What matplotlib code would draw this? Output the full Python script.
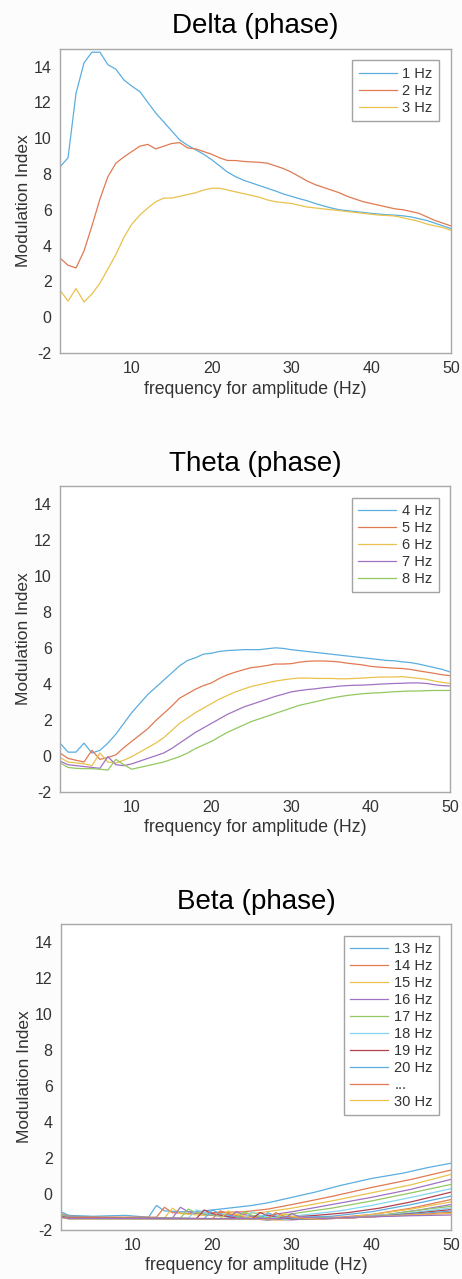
import numpy as np
import matplotlib.pyplot as plt

plt.rcParams['font.family'] = ['Liberation Sans', 'DejaVu Sans']
plt.rcParams['axes.unicode_minus'] = False

# MATLAB-like colour order (as it appears, slightly washed out)
colors = ['#5aaee0', '#e07a52', '#e9c24c', '#a172c2', '#92c862', '#84d6f0', '#b2404f']

freq = np.arange(1, 51)

# Delta (phase)
delta_labels = ['1 Hz', '2 Hz', '3 Hz']
delta_1 = [8.4, 8.9, 12.5, 14.2, 14.8, 14.8, 14.1, 13.85, 13.25, 12.9,
           12.6, 12.0, 11.4, 10.9, 10.4, 9.9, 9.6, 9.35, 9.1, 8.8,
           8.45, 8.1, 7.85, 7.65, 7.5, 7.35, 7.2, 7.05, 6.88, 6.75,
           6.62, 6.5, 6.35, 6.22, 6.1, 6.0, 5.95, 5.9, 5.85, 5.8,
           5.76, 5.72, 5.7, 5.66, 5.6, 5.5, 5.4, 5.25, 5.1, 4.95]
delta_2 = [3.3, 2.9, 2.75, 3.7, 5.1, 6.6, 7.85, 8.6, 8.95, 9.25,
           9.55, 9.65, 9.4, 9.55, 9.7, 9.75, 9.45, 9.4, 9.25, 9.1,
           8.9, 8.75, 8.75, 8.7, 8.67, 8.65, 8.6, 8.45, 8.3, 8.1,
           7.85, 7.6, 7.4, 7.25, 7.1, 6.95, 6.75, 6.6, 6.45, 6.35,
           6.25, 6.15, 6.05, 6.0, 5.9, 5.8, 5.6, 5.4, 5.25, 5.1]
delta_3 = [1.5, 0.9, 1.6, 0.85, 1.3, 1.9, 2.7, 3.5, 4.45, 5.2,
           5.7, 6.1, 6.45, 6.65, 6.65, 6.75, 6.85, 6.95, 7.1, 7.2,
           7.2, 7.1, 7.0, 6.9, 6.8, 6.7, 6.55, 6.45, 6.4, 6.35,
           6.25, 6.15, 6.1, 6.05, 6.0, 5.95, 5.9, 5.85, 5.8, 5.75,
           5.7, 5.68, 5.65, 5.55, 5.45, 5.35, 5.2, 5.1, 5.0, 4.85]

# Theta (phase)
theta_labels = ['4 Hz', '5 Hz', '6 Hz', '7 Hz', '8 Hz']
theta_4 = [0.7, 0.2, 0.2, 0.7, 0.15, 0.3, 0.7, 1.2, 1.8, 2.4,
           2.9, 3.4, 3.8, 4.2, 4.6, 5.0, 5.3, 5.45, 5.65, 5.7,
           5.8, 5.85, 5.87, 5.9, 5.9, 5.9, 5.95, 6.0, 5.97, 5.9,
           5.85, 5.8, 5.75, 5.7, 5.65, 5.6, 5.55, 5.5, 5.45, 5.4,
           5.35, 5.3, 5.28, 5.22, 5.18, 5.1, 5.0, 4.9, 4.8, 4.65]
theta_5 = [0.15, -0.15, -0.25, -0.35, 0.3, -0.2, -0.1, 0.05, 0.45, 0.8,
           1.15, 1.5, 1.95, 2.35, 2.75, 3.2, 3.45, 3.7, 3.9, 4.05,
           4.3, 4.5, 4.65, 4.78, 4.9, 4.95, 5.02, 5.1, 5.1, 5.12,
           5.2, 5.25, 5.27, 5.27, 5.25, 5.22, 5.15, 5.1, 5.05, 4.97,
           4.93, 4.9, 4.87, 4.85, 4.8, 4.72, 4.65, 4.58, 4.5, 4.45]
theta_6 = [-0.1, -0.35, -0.4, -0.45, -0.55, 0.15, -0.35, -0.4, -0.25, -0.05,
           0.2, 0.45, 0.7, 1.0, 1.4, 1.8, 2.1, 2.4, 2.65, 2.9,
           3.15, 3.35, 3.55, 3.7, 3.85, 3.95, 4.05, 4.15, 4.22, 4.28,
           4.32, 4.32, 4.3, 4.3, 4.3, 4.28, 4.28, 4.3, 4.32, 4.35,
           4.37, 4.38, 4.38, 4.4, 4.35, 4.3, 4.25, 4.15, 4.08, 4.02]
theta_7 = [-0.3, -0.5, -0.55, -0.6, -0.65, -0.7, -0.05, -0.5, -0.55, -0.45,
           -0.3, -0.15, 0.0, 0.15, 0.4, 0.7, 1.0, 1.3, 1.55, 1.8,
           2.05, 2.3, 2.5, 2.7, 2.85, 3.0, 3.15, 3.3, 3.42, 3.55,
           3.62, 3.68, 3.72, 3.78, 3.82, 3.87, 3.9, 3.92, 3.93, 3.95,
           3.98, 4.0, 4.02, 4.03, 4.05, 4.05, 4.02, 3.95, 3.9, 3.88]
theta_8 = [-0.4, -0.65, -0.7, -0.72, -0.72, -0.75, -0.8, -0.2, -0.5, -0.75,
           -0.65, -0.55, -0.45, -0.35, -0.2, -0.05, 0.15, 0.4, 0.6, 0.8,
           1.05, 1.3, 1.5, 1.7, 1.9, 2.05, 2.2, 2.35, 2.5, 2.65,
           2.8, 2.9, 3.0, 3.1, 3.2, 3.28, 3.35, 3.4, 3.45, 3.48,
           3.5, 3.53, 3.56, 3.58, 3.6, 3.6, 3.62, 3.63, 3.63, 3.63]

# Beta (phase): 13..30 Hz, read as breakpoints (x, MI)
beta_labels = ['13 Hz', '14 Hz', '15 Hz', '16 Hz', '17 Hz', '18 Hz',
               '19 Hz', '20 Hz', '...', '30 Hz']
beta_x = [
    [1, 2, 5, 9, 12, 13, 14, 16, 18, 20, 22, 25, 27, 30, 33, 36, 40, 44, 47, 50],
    [1, 2, 6, 13, 14, 15, 17, 20, 24, 27, 30, 35, 40, 45, 50],
    [1, 2, 14, 15, 16, 19, 22, 26, 30, 35, 40, 45, 50],
    [1, 2, 15, 16, 17, 20, 24, 27, 30, 35, 40, 45, 50],
    [1, 2, 16, 17, 18, 21, 25, 28, 31, 35, 40, 45, 50],
    [1, 2, 17, 18, 19, 22, 26, 29, 32, 36, 40, 45, 50],
    [1, 2, 18, 19, 20, 23, 27, 30, 33, 37, 41, 45, 50],
    [1, 2, 19, 20, 21, 24, 27, 31, 35, 40, 45, 50],
    [1, 2, 20, 21, 22, 25, 28, 32, 36, 40, 45, 50],
    [1, 2, 21, 22, 23, 26, 29, 33, 37, 41, 45, 50],
    [1, 2, 22, 23, 24, 27, 30, 34, 38, 42, 46, 50],
    [1, 2, 23, 24, 25, 28, 31, 35, 39, 43, 47, 50],
    [1, 2, 24, 25, 26, 29, 32, 36, 40, 44, 50],
    [1, 2, 25, 26, 27, 30, 33, 37, 41, 45, 50],
    [1, 2, 26, 27, 28, 31, 34, 38, 42, 46, 50],
    [1, 2, 27, 28, 29, 32, 35, 39, 43, 47, 50],
    [1, 2, 28, 29, 30, 33, 36, 40, 44, 50],
    [1, 2, 29, 30, 31, 34, 37, 41, 45, 50],
]
beta_y = [
    [-1.0, -1.2, -1.25, -1.2, -1.3, -0.65, -0.95, -1.0, -1.0, -0.9, -0.8, -0.65, -0.5, -0.2, 0.1, 0.45, 0.85, 1.15, 1.45, 1.7],
    [-1.1, -1.25, -1.3, -1.3, -0.75, -1.05, -1.1, -1.05, -1.0, -0.85, -0.6, -0.15, 0.35, 0.8, 1.32],
    [-1.15, -1.3, -1.35, -0.8, -1.1, -1.2, -1.15, -1.05, -0.8, -0.4, 0.05, 0.5, 1.08],
    [-1.2, -1.3, -1.35, -0.75, -1.0, -1.2, -1.3, -1.2, -1.0, -0.6, -0.2, 0.25, 0.8],
    [-1.2, -1.32, -1.35, -0.85, -1.05, -1.25, -1.35, -1.25, -1.05, -0.8, -0.4, 0.05, 0.52],
    [-1.25, -1.35, -1.35, -0.9, -1.05, -1.3, -1.4, -1.3, -1.15, -0.95, -0.65, -0.2, 0.28],
    [-1.2, -1.33, -1.38, -0.9, -1.1, -1.35, -1.45, -1.3, -1.2, -1.05, -0.8, -0.45, 0.09],
    [-1.15, -1.3, -1.38, -0.9, -1.1, -1.35, -1.45, -1.3, -1.25, -1.0, -0.6, -0.13],
    [-1.25, -1.35, -1.4, -0.95, -1.1, -1.4, -1.45, -1.35, -1.3, -1.15, -0.8, -0.32],
    [-1.2, -1.35, -1.4, -0.95, -1.15, -1.4, -1.45, -1.35, -1.3, -1.1, -0.85, -0.45],
    [-1.25, -1.35, -1.4, -1.0, -1.15, -1.4, -1.45, -1.35, -1.3, -1.15, -0.9, -0.6],
    [-1.2, -1.35, -1.4, -1.0, -1.2, -1.4, -1.4, -1.35, -1.3, -1.1, -0.85, -0.7],
    [-1.3, -1.38, -1.4, -1.0, -1.2, -1.4, -1.4, -1.35, -1.25, -1.1, -0.79],
    [-1.25, -1.35, -1.4, -1.05, -1.2, -1.4, -1.4, -1.35, -1.25, -1.1, -0.88],
    [-1.3, -1.38, -1.4, -1.05, -1.25, -1.4, -1.38, -1.32, -1.22, -1.1, -0.96],
    [-1.3, -1.35, -1.38, -1.05, -1.25, -1.4, -1.38, -1.3, -1.22, -1.12, -1.03],
    [-1.32, -1.4, -1.4, -1.08, -1.25, -1.4, -1.35, -1.28, -1.2, -1.1],
    [-1.3, -1.38, -1.38, -1.1, -1.28, -1.38, -1.32, -1.27, -1.22, -1.18],
]

fig = plt.figure(figsize=(4.62, 12.79), dpi=100, facecolor='#fcfcfc')

panels = [
    ('Delta (phase)', [0.130, 0.724, 0.846, 0.238]),
    ('Theta (phase)', [0.130, 0.381, 0.845, 0.239]),
    ('Beta (phase)', [0.132, 0.0385, 0.844, 0.239]),
]

axes = []
for title, rect in panels:
    ax = fig.add_axes(rect)
    ax.set_facecolor('white')
    ax.set_xlim(1, 50)
    ax.set_ylim(-2, 15)
    ax.set_xticks([10, 20, 30, 40, 50])
    ax.set_yticks(np.arange(-2, 15, 2))
    ax.tick_params(length=0, labelsize=11.5, labelcolor='#333333', pad=6)
    for s in ax.spines.values():
        s.set_color('#a8a8a8')
        s.set_linewidth(1.0)
    ax.set_title(title, fontsize=20, pad=11)
    ax.set_xlabel('frequency for amplitude (Hz)', fontsize=12.7, color='#333333', labelpad=3)
    ax.set_ylabel('Modulation Index', fontsize=12.5, color='#333333', labelpad=2)
    axes.append(ax)

lw = 0.9

# Delta
for i, (y, lab) in enumerate(zip([delta_1, delta_2, delta_3], delta_labels)):
    axes[0].plot(freq, y, color=colors[i], lw=lw, label=lab)

# Theta
theta = [theta_4, theta_5, theta_6, theta_7, theta_8]
for i, (y, lab) in enumerate(zip(theta, theta_labels)):
    axes[1].plot(freq, y, color=colors[i], lw=lw, label=lab)

# Beta: legend only names the first ten lines
for i, (xs, ys) in enumerate(zip(beta_x, beta_y)):
    lab = beta_labels[i] if i < len(beta_labels) else '_nolegend_'
    axes[2].plot(xs, ys, color=colors[i % len(colors)], lw=lw, label=lab)

for ax in axes:
    leg = ax.legend(loc='upper right', fontsize=10.5, frameon=True, fancybox=False,
                    handlelength=2.6, handletextpad=0.4, borderpad=0.45,
                    labelspacing=0.2, borderaxespad=0.8)
    leg.get_frame().set_edgecolor('#8c8c8c')
    leg.get_frame().set_linewidth(1.0)
    for t in leg.get_texts():
        t.set_color('#333333')

fig.savefig('out.png', dpi=100, facecolor=fig.get_facecolor())
